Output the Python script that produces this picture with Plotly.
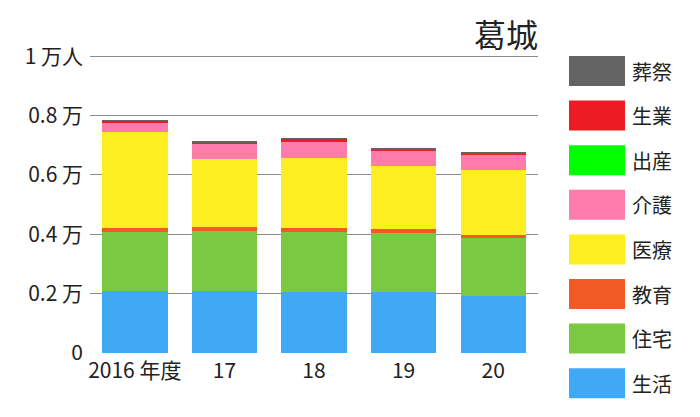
import plotly.graph_objects as go

years = ["2016 年度", "17", "18", "19", "20"]
series_names = ["生活", "住宅", "教育", "医療", "介護", "出産", "生業", "葬祭"]
colors = ["#3FA9F5", "#7AC943", "#F15A24", "#FCEE21", "#FF7BAC", "#00FF00", "#ED1C24", "#636363"]

seikatsu = [2090, 2090, 2066, 2066, 1931]
jutaku = [1978, 2022, 2002, 1979, 1945]
kyoiku = [145, 145, 145, 134, 101]
iryo = [3246, 2282, 2369, 2124, 2191]
kaigo = [317, 505, 530, 529, 516]
shussan = [0, 0, 0, 0, 0]
seigyo = [64, 34, 100, 34, 52]
sosai = [8, 34, 3, 10, 5]

values = [seikatsu, jutaku, kyoiku, iryo, kaigo, shussan, seigyo, sosai]

y_tickvals = [0, 2000, 4000, 6000, 8000, 10000]
y_ticktext = ["0", "0.2 万", "0.4 万", "0.6 万", "0.8 万", "1 万人"]
grid_vals = [2000, 4000, 6000, 8000, 10000]
title_text = "葛城"

FONT = "Noto Sans CJK JP"
OFF = 8  # page body margin

fig = go.Figure()
for name, col, vals in zip(series_names, colors, values):
    fig.add_trace(go.Bar(x=years, y=vals, name=name, marker=dict(color=col, line=dict(width=0)),
                         showlegend=False))

fig.add_trace(go.Scatter(x=years, y=[None] * len(years), yaxis="y2", showlegend=False, hoverinfo="skip"))

# target geometry in screenshot pixels
W, H = 700, 417
PL, PR, PT, PB = 90, 538, 55, 353
YMAX = 10040

FW, FH = W - OFF, H - OFF
L = PL - OFF
T = PT - OFF
R = FW - (PR - OFF)
B = FH - (PB - OFF)
pw, ph = PR - PL, PB - PT

def px_x(p):
    return (p - PL) / pw

def px_y(p):
    return (PB - p) / ph

shapes = []
annotations = []
legend_order = list(reversed(range(len(series_names))))
for i, idx in enumerate(legend_order):
    cy = 71 + i * 44.6
    shapes.append(dict(type="rect", xref="paper", yref="paper",
                       x0=px_x(569), x1=px_x(625), y0=px_y(cy + 15), y1=px_y(cy - 15),
                       fillcolor=colors[idx], line=dict(width=0)))
    annotations.append(dict(xref="paper", yref="paper", x=px_x(630), y=px_y(cy),
                            text=series_names[idx], showarrow=False, xanchor="left", yanchor="middle",
                            font=dict(size=20, color="#222", family=FONT)))

annotations.append(dict(xref="paper", yref="paper", x=px_x(540), y=px_y(33), text=title_text,
                        showarrow=False, xanchor="right", yanchor="middle",
                        font=dict(size=32, color="#222", family=FONT)))

fig.update_layout(
    width=FW, height=FH,
    margin=dict(l=L, r=R, t=T, b=B, pad=0),
    barmode="stack", bargap=0.27,
    plot_bgcolor="white", paper_bgcolor="white",
    font=dict(family=FONT, size=21, color="#222"),
    xaxis=dict(showgrid=False, showline=False, ticks="", zeroline=False,
               tickfont=dict(size=21), range=[-0.5, 4.5], ticklabelstandoff=3),
    yaxis=dict(range=[0, YMAX], tickvals=y_tickvals, ticktext=y_ticktext,
               showgrid=False, zeroline=False, showline=False, ticks="",
               tickfont=dict(size=21), ticklabelstandoff=6),
    yaxis2=dict(range=[0, YMAX], overlaying="y", tickvals=grid_vals,
                showgrid=True, gridcolor="#8c8c8c", gridwidth=1, showticklabels=False,
                zeroline=False, showline=False, ticks="", layer="below traces"),
    shapes=shapes,
    annotations=annotations,
)

fig.write_html("out.html")
